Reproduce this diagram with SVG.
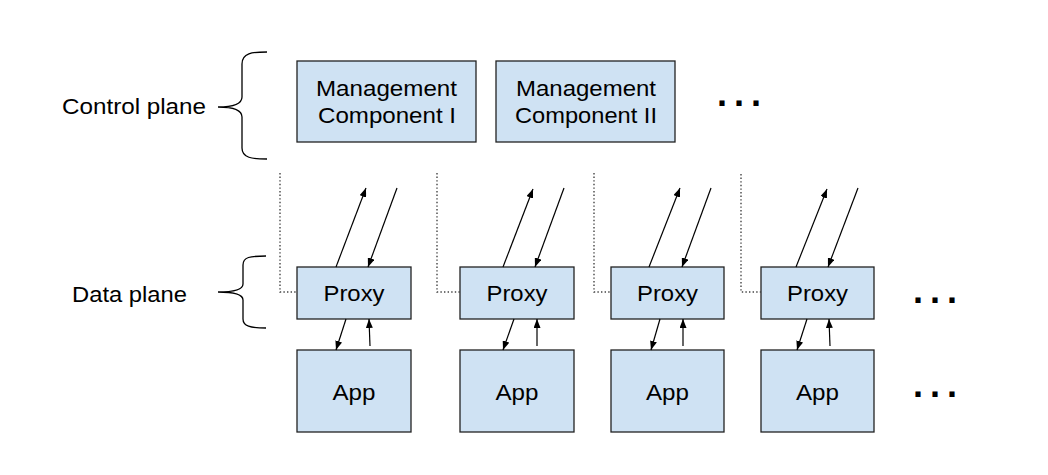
<svg xmlns="http://www.w3.org/2000/svg" width="1048" height="475" viewBox="0 0 1048 475">
<defs>
<marker id="ah" markerWidth="9" markerHeight="7" refX="9" refY="3.5" orient="auto" markerUnits="userSpaceOnUse">
<path d="M0,0 L9,3.5 L0,7 Z" fill="#000"/>
</marker>
<style>
.box{fill:#cfe2f3;stroke:#222;stroke-width:1.3}
.t{font-family:"Liberation Sans",Arial,sans-serif;font-size:22.5px;fill:#000}
.m{text-anchor:middle}
.arr{stroke:#000;stroke-width:1.2;fill:none;marker-end:url(#ah)}
.dot{stroke:#444;stroke-width:1.4;fill:none;stroke-dasharray:1.4 2.2}
.brace{stroke:#000;stroke-width:1.3;fill:none}
.dots{font-family:"Liberation Sans",Arial,sans-serif;font-size:36px;font-weight:bold;letter-spacing:7px;fill:#000}
</style>
</defs>
<rect width="1048" height="475" fill="#fff"/>

<g id="labels">
<text class="t" x="62" y="114" textLength="144" lengthAdjust="spacingAndGlyphs">Control plane</text>
<path class="brace" d="M267,52 C252,52 242,53 242,64 L242,97 C242,103 235,107 218,107 C235,107 242,111 242,117 L242,148 C242,158 252,159 267,159"/>
<text class="t" x="72" y="302" textLength="115" lengthAdjust="spacingAndGlyphs">Data plane</text>
<path class="brace" d="M266,256 C250,256 243,257 243,265 L243,284 C243,289 236,292 218,292 C236,292 243,295 243,300 L243,319 C243,326 250,328 266,328"/>
</g>

<g id="mgmt1">
<rect class="box" x="297" y="61" width="179" height="81"/>
<text class="t" x="316" y="96" textLength="141" lengthAdjust="spacingAndGlyphs">Management</text>
<text class="t" x="318" y="123" textLength="138" lengthAdjust="spacingAndGlyphs">Component I</text>
</g>
<g id="mgmt2">
<rect class="box" x="496" y="61" width="179" height="81"/>
<text class="t" x="516" y="96" textLength="140" lengthAdjust="spacingAndGlyphs">Management</text>
<text class="t" x="515" y="123" textLength="142" lengthAdjust="spacingAndGlyphs">Component II</text>
</g>
<text class="dots" x="717" y="106">...</text>

<g id="proxy1">
<rect class="box" x="297" y="267" width="114" height="52"/>
<text class="t m" x="354" y="301" textLength="61" lengthAdjust="spacingAndGlyphs">Proxy</text>
</g>
<g id="app1">
<rect class="box" x="297" y="350" width="114" height="82"/>
<text class="t m" x="354" y="400" textLength="43" lengthAdjust="spacingAndGlyphs">App</text>
</g>
<g id="proxy2">
<rect class="box" x="460" y="267" width="114" height="52"/>
<text class="t m" x="517" y="301" textLength="61" lengthAdjust="spacingAndGlyphs">Proxy</text>
</g>
<g id="app2">
<rect class="box" x="460" y="350" width="114" height="82"/>
<text class="t m" x="517" y="400" textLength="43" lengthAdjust="spacingAndGlyphs">App</text>
</g>
<g id="proxy3">
<rect class="box" x="611" y="267" width="113" height="52"/>
<text class="t m" x="667.5" y="301" textLength="61" lengthAdjust="spacingAndGlyphs">Proxy</text>
</g>
<g id="app3">
<rect class="box" x="611" y="350" width="113" height="82"/>
<text class="t m" x="667.5" y="400" textLength="43" lengthAdjust="spacingAndGlyphs">App</text>
</g>
<g id="proxy4">
<rect class="box" x="761" y="267" width="113" height="52"/>
<text class="t m" x="817.5" y="301" textLength="61" lengthAdjust="spacingAndGlyphs">Proxy</text>
</g>
<g id="app4">
<rect class="box" x="761" y="350" width="113" height="82"/>
<text class="t m" x="817.5" y="400" textLength="43" lengthAdjust="spacingAndGlyphs">App</text>
</g>
<text class="dots" x="913" y="303">...</text>
<text class="dots" x="913" y="397">...</text>

<g id="connectors">
<path class="dot" d="M280,173 L280,292 L297,292"/>
<path class="dot" d="M437,173 L437,292 L460,292"/>
<path class="dot" d="M594,173 L594,292 L611,292"/>
<path class="dot" d="M741,174 L741,292 L761,292"/>

<line class="arr" x1="336" y1="267" x2="366" y2="188"/>
<line class="arr" x1="397" y1="188" x2="368" y2="267"/>
<line class="arr" x1="346" y1="319" x2="336" y2="350"/>
<line class="arr" x1="370" y1="346" x2="369" y2="319"/>

<line class="arr" x1="503" y1="267" x2="533" y2="189"/>
<line class="arr" x1="564" y1="188" x2="535" y2="267"/>
<line class="arr" x1="514" y1="319" x2="503" y2="350"/>
<line class="arr" x1="537" y1="346" x2="537" y2="319"/>

<line class="arr" x1="649" y1="267" x2="680" y2="188"/>
<line class="arr" x1="711" y1="188" x2="682" y2="267"/>
<line class="arr" x1="660" y1="319" x2="651" y2="350"/>
<line class="arr" x1="683" y1="346" x2="683" y2="319"/>

<line class="arr" x1="796" y1="267" x2="827" y2="189"/>
<line class="arr" x1="858" y1="188" x2="828" y2="267"/>
<line class="arr" x1="807" y1="319" x2="797" y2="350"/>
<line class="arr" x1="830" y1="346" x2="829" y2="319"/>
</g>
</svg>
